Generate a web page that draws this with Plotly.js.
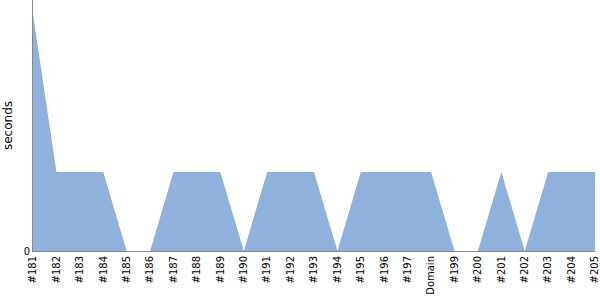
<!DOCTYPE html>
<html><head><meta charset="utf-8">
<script src="https://cdn.plot.ly/plotly-3.0.1.min.js"></script>
<style>html,body{margin:0;padding:0;background:#fff}#c{width:600px;height:300px}</style>
</head><body><div id="c"></div>
<script>
const categories = ["#181","#182","#183","#184","#185","#186","#187","#188","#189","#190","#191","#192","#193","#194","#195","#196","#197","Domain","#199","#200","#201","#202","#203","#204","#205"];
const seconds = [3,1,1,1,0,0,1,1,1,0,1,1,1,0,1,1,1,1,0,0,1,0,1,1,1];

Plotly.newPlot('c', [{
  x: categories, y: seconds, type: 'scatter', mode: 'lines',
  fill: 'tozeroy', fillcolor: 'rgb(143,177,219)',
  line: {width: 0, color: 'rgb(143,177,219)'}, hoverinfo: 'none'
}], {
  width: 600, height: 300,
  margin: {l: 33, r: 5, t: 0, b: 49},
  paper_bgcolor: '#fff', plot_bgcolor: '#fff',
  showlegend: false,
  font: {family: 'DejaVu Sans', size: 10, color: '#000'},
  xaxis: {type: 'category', range: [0, categories.length - 1], tickangle: -90,
    showgrid: false, zeroline: false, showline: true, linecolor: '#888', linewidth: 1,
    ticks: '', tickfont: {family: 'DejaVu Sans', size: 10}},
  yaxis: {range: [0, 3.18], tickvals: [0], ticktext: ['0'], showgrid: false, zeroline: false,
    showline: true, linecolor: '#888', linewidth: 1, ticks: '',
    title: {text: 'seconds', font: {family: 'DejaVu Sans', size: 12}, standoff: 8},
    tickfont: {family: 'DejaVu Sans', size: 10}}
}, {staticPlot: true});
</script></body></html>
